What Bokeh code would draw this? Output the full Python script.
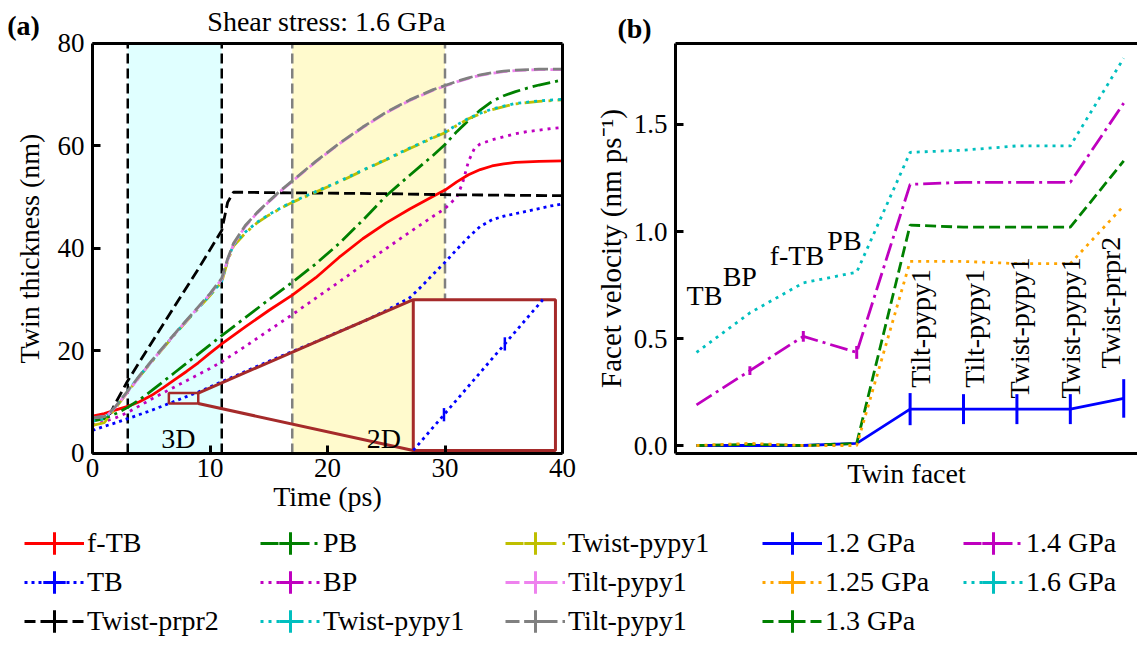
import numpy as np
from bokeh.plotting import figure
from bokeh.layouts import column, row
from bokeh.models import (Range1d, FixedTicker, BoxAnnotation, Label, Legend,
                          LegendItem, LinearAxis, PrintfTickFormatter)
from bokeh.core.properties import value
from bokeh.embed import file_html
from bokeh.resources import INLINE

FONT = "Liberation Serif"

# ---------------- panel (a) data: twin thickness (nm) vs time (ps) ----------------
t_ftb = [0, 1, 2, 3, 4, 5, 6, 7, 8, 9, 10, 11, 13, 15, 17, 19, 21, 23, 25, 27, 29, 30, 31, 32, 33, 34, 35, 36, 38, 40]
ftb = [7.3, 7.8, 8.5, 9.2, 10.1, 11.3, 12.8, 14.4, 16.0, 17.7, 19.6, 21.4, 24.7, 27.9, 30.9, 34.3, 38.3, 41.9,
       45.0, 47.7, 50.2, 51.4, 53.0, 54.4, 55.4, 56.1, 56.5, 56.8, 57.0, 57.1]

t_tb = [0, 1, 2, 3, 4, 5, 6, 7, 8, 9, 10, 11, 13, 15, 17, 19, 21, 23, 25, 27, 28, 29, 30, 31, 32, 33, 34, 35, 36,
        37, 38, 39, 40]
tb = [4.5, 5.3, 6.0, 6.8, 7.6, 8.4, 9.3, 10.2, 11.1, 12.0, 13.0, 14.0, 16.0, 18.0, 19.9, 21.8, 23.8, 25.7, 27.9,
      30.4, 32.6, 35.0, 37.3, 39.8, 42.2, 44.3, 45.6, 46.3, 46.8, 47.3, 47.8, 48.3, 48.7]
tb_err_t = [7.04, 8.11]
tb_err = [0.09, 0.09]

t_prpr2 = [0, 1, 1.5, 2, 3, 5, 7, 9, 11, 11.5, 12, 15, 20, 25, 30, 35, 40]
prpr2 = [7.0, 7.2, 7.8, 10.0, 14.2, 21.5, 28.8, 36.0, 43.5, 49.0, 51.0, 50.9, 50.8, 50.7, 50.5, 50.4, 50.3]

t_pb = [0, 1, 2, 3, 4, 5, 6, 7, 8, 9, 10, 11, 13, 15, 17, 19, 21, 23, 25, 27, 29, 30, 31, 32, 33, 34, 35, 36, 37,
        38, 39, 40]
pb = [6.3, 6.8, 7.8, 9.0, 10.5, 12.2, 14.0, 15.8, 17.6, 19.4, 21.2, 23.0, 26.5, 30.0, 33.4, 37.0, 41.0, 45.5,
      50.3, 54.3, 58.2, 60.3, 62.8, 65.0, 67.0, 68.7, 69.8, 70.6, 71.3, 71.9, 72.4, 72.9]

t_bp = [0, 1, 2, 3, 4, 5, 6, 7, 8, 9, 10, 11, 13, 15, 17, 19, 21, 23, 25, 27, 29, 30, 31, 31.5, 32, 32.5, 33, 34,
        35, 36, 37, 38, 39, 40]
bp = [5.5, 6.2, 7.0, 8.0, 9.3, 10.6, 11.8, 13.0, 14.2, 15.4, 16.6, 17.9, 20.9, 24.0, 27.1, 30.3, 33.5, 36.8,
      40.0, 43.2, 46.3, 47.8, 50.0, 52.8, 57.0, 59.5, 60.4, 61.2, 61.8, 62.4, 62.8, 63.1, 63.4, 63.6]

t_twist = [0, 1, 2, 3, 4, 5, 6, 7, 8, 9, 10, 11, 11.5, 12, 13, 14, 15, 16, 17, 19, 21, 23, 25, 27, 29, 30, 31,
           32, 33, 34, 35, 36, 38, 40]
twist_olive = [5.5, 6.0, 9.0, 12.0, 15.0, 17.8, 20.5, 23.2, 25.8, 28.3, 30.8, 33.5, 37.5, 40.5, 43.0, 45.0,
               46.5, 47.8, 49.0, 51.0, 53.0, 55.2, 57.3, 59.5, 61.6, 62.6, 64.0, 65.3, 66.3, 67.1, 67.7, 68.2,
               68.7, 69.0]
twist_cyan = [6.3, 6.8, 9.2, 12.2, 15.1, 17.9, 20.6, 23.3, 25.9, 28.4, 30.9, 33.6, 37.8, 40.7, 43.2, 45.1, 46.6,
              47.9, 49.1, 51.1, 53.1, 55.3, 57.4, 59.6, 61.7, 62.7, 64.1, 65.4, 66.4, 67.2, 67.8, 68.3, 68.8, 69.1]

t_tilt = [0, 1, 1.3, 2, 3, 4, 5, 6, 7, 8, 9, 10, 11, 11.5, 12, 13, 14, 15, 16, 17, 19, 21, 23, 25, 27, 29, 30,
          31, 32, 33, 34, 35, 36, 38, 40]
tilt_grey = [7.0, 7.2, 7.5, 9.3, 12.2, 15.2, 18.0, 20.7, 23.4, 26.0, 28.6, 31.2, 34.2, 38.0, 41.0, 44.5, 47.0,
             49.2, 51.3, 53.2, 57.0, 60.5, 63.7, 66.6, 69.0, 71.0, 71.8, 72.6, 73.3, 73.9, 74.3, 74.6, 74.8,
             75.0, 75.0]
tilt_violet = [7.0, 7.2, 7.5, 9.2, 12.0, 15.0, 17.9, 20.6, 23.3, 25.9, 28.5, 31.1, 34.0, 37.8, 40.8, 44.3, 46.9,
               49.1, 51.2, 53.1, 56.9, 60.4, 63.6, 66.5, 68.9, 70.9, 71.7, 72.5, 73.2, 73.8, 74.2, 74.5, 74.7,
               74.9, 74.9]

x_lim_a = [0, 40]
y_lim_a = [0, 80]
shade_start = [3, 17]
shade_end = [11, 30]
shade_labels = ["3D", "2D"]

# ---------------- panel (b) data: facet velocity ----------------
facets = ["TB", "BP", "f-TB", "PB", "Tilt-pypy1", "Tilt-pypy1", "Twist-pypy1", "Twist-pypy1", "Twist-prpr2"]
v_12 = [0.0, 0.0, 0.0, 0.01, 0.17, 0.17, 0.17, 0.17, 0.22]
e_12 = [0, 0, 0, 0, 0.075, 0.07, 0.07, 0.07, 0.09]
v_125 = [0.0, 0.01, 0.0, 0.0, 0.86, 0.86, 0.85, 0.85, 1.12]
v_13 = [0.0, 0.005, 0.0, 0.01, 1.03, 1.02, 1.02, 1.02, 1.33]
v_14 = [0.19, 0.35, 0.51, 0.435, 1.22, 1.23, 1.23, 1.23, 1.60]
e_14 = [0, 0.02, 0.025, 0.03, 0, 0, 0, 0, 0]
v_16 = [0.435, 0.62, 0.76, 0.81, 1.37, 1.38, 1.40, 1.40, 1.81]
x_lim_b = [-0.393, 8.258]
y_lim_b = [-0.0374, 1.8785]

# ---------------- layout constants ----------------
zoom_x = [6.5, 9.0]
zoom_y = [9.75, 11.8]
inset_x = [27.3, 39.4]
inset_y = [0.6, 30.0]
BROWN = "#A52A2A"
LW = 2.8
MAIN_H = 515
LEG_H = 130
WA, WB = 590, 547


def style_axis(ax):
    ax.major_label_text_font = FONT
    ax.major_label_text_font_size = "27px"
    ax.major_label_text_color = "black"
    ax.axis_label_text_font = FONT
    ax.axis_label_text_font_size = "28px"
    ax.axis_label_text_font_style = "normal"
    ax.axis_label_text_color = "black"
    ax.major_tick_in = 8
    ax.major_tick_out = 0
    ax.major_tick_line_width = 3
    ax.major_tick_line_color = "black"
    ax.minor_tick_line_color = None
    ax.axis_line_width = 3
    ax.axis_line_color = "black"


def spine(loc, bounds):
    return LinearAxis(fixed_location=loc, bounds=tuple(bounds), ticker=FixedTicker(ticks=[]),
                      major_label_text_font_size="0px", major_tick_in=0, major_tick_out=0,
                      minor_tick_in=0, minor_tick_out=0, axis_line_width=3, axis_line_color="black")


# ================= panel (a) =================
# frame covers the whole canvas; the plot box is drawn by axes fixed at the data limits
pa = figure(width=WA, height=MAIN_H, x_range=Range1d(-7.830, 42.383), y_range=Range1d(-12.098, 88.390),
            output_backend="svg", toolbar_location=None, min_border=0)
pa.grid.visible = False
pa.outline_line_color = None
pa.xaxis.ticker = FixedTicker(ticks=[0, 10, 20, 30, 40])
pa.yaxis.ticker = FixedTicker(ticks=[0, 20, 40, 60, 80])
pa.xaxis.axis_label = "Time (ps)"
pa.yaxis.axis_label = "Twin thickness (nm)"
for ax in pa.axis:
    style_axis(ax)
pa.xaxis.fixed_location = y_lim_a[0]
pa.xaxis.bounds = tuple(x_lim_a)
pa.yaxis.fixed_location = x_lim_a[0]
pa.yaxis.bounds = tuple(y_lim_a)
pa.xaxis.major_label_standoff = 6
pa.xaxis.axis_label_standoff = 0
pa.yaxis.major_label_standoff = 8
pa.yaxis.axis_label_standoff = 10
pa.add_layout(spine(y_lim_a[1], x_lim_a), "above")
pa.add_layout(spine(x_lim_a[1], y_lim_a), "right")

for s, e, c in zip(shade_start, shade_end, ["#E0FFFF", "#FFFACD"]):
    pa.add_layout(BoxAnnotation(left=s, right=e, bottom=y_lim_a[0], top=y_lim_a[1], fill_color=c,
                                fill_alpha=1, line_color=None, level="underlay"))
for s, e, c in zip(shade_start, shade_end, ["black", "#808080"]):
    pa.segment(x0=[s, e], x1=[s, e], y0=[y_lim_a[0]] * 2, y1=[y_lim_a[1]] * 2,
               line_color=c, line_width=2.5, line_dash="10 5")

pa.line(t_tb, tb, line_color="#0000FF", line_width=LW, line_dash="3 4")
pa.line(t_bp, bp, line_color="#BF00BF", line_width=LW, line_dash="3 5")
pa.line(t_ftb, ftb, line_color="#FF0000", line_width=LW)
pa.line(t_pb, pb, line_color="#008000", line_width=LW, line_dash="18 5 3 5")
pa.line(t_prpr2, prpr2, line_color="black", line_width=LW, line_dash="11 5")
pa.line(t_twist, twist_olive, line_color="#BFBF00", line_width=LW, line_dash="18 6 3 6")
pa.line(t_twist, twist_cyan, line_color="#00BFBF", line_width=LW, line_dash="3 5")
pa.line(t_tilt, tilt_violet, line_color="#EE82EE", line_width=LW, line_dash="14 5", line_dash_offset=3)
pa.line(t_tilt, tilt_grey, line_color="#808080", line_width=LW, line_dash="14 5")

# zoom box, connectors and inset (magnified TB curve)
pa.quad(left=[zoom_x[0]], right=[zoom_x[1]], bottom=[zoom_y[0]], top=[zoom_y[1]],
        fill_color=None, line_color=BROWN, line_width=2.5)
pa.segment(x0=[zoom_x[1], zoom_x[1]], y0=[zoom_y[1], zoom_y[0]],
           x1=[inset_x[0], inset_x[0]], y1=[inset_y[1], inset_y[0]], line_color=BROWN, line_width=3)
pa.quad(left=[inset_x[0]], right=[inset_x[1]], bottom=[inset_y[0]], top=[inset_y[1]],
        fill_color="white", line_color=BROWN, line_width=3)

sx = (inset_x[1] - inset_x[0]) / (zoom_x[1] - zoom_x[0])
sy = (inset_y[1] - inset_y[0]) / (zoom_y[1] - zoom_y[0])
t0 = max(zoom_x[0], float(np.interp(zoom_y[0], tb, t_tb)))
t1 = min(zoom_x[1], float(np.interp(zoom_y[1], tb, t_tb)))
ts = [t0] + [t for t in t_tb if t0 < t < t1] + [t1]
vs = list(np.interp(ts, t_tb, tb))
pa.line([inset_x[0] + (t - zoom_x[0]) * sx for t in ts], [inset_y[0] + (v - zoom_y[0]) * sy for v in vs],
        line_color="#0000FF", line_width=LW, line_dash="3 4")
ev = np.interp(tb_err_t, t_tb, tb)
ex = [inset_x[0] + (t - zoom_x[0]) * sx for t in tb_err_t]
pa.segment(x0=ex, x1=ex,
           y0=[inset_y[0] + (v - e - zoom_y[0]) * sy for v, e in zip(ev, tb_err)],
           y1=[inset_y[0] + (v + e - zoom_y[0]) * sy for v, e in zip(ev, tb_err)],
           line_color="#0000FF", line_width=2.5)

for txt, xx in zip(shade_labels, [7.3, 24.8]):
    pa.add_layout(Label(x=xx, y=2.9, text=txt, text_align="center", text_baseline="middle",
                        text_font=FONT, text_font_size="28px", text_color="black"))
pa.add_layout(Label(x=-5.87, y=83.5, text="(a)", text_align="center", text_baseline="middle",
                    text_font=FONT, text_font_size="28px", text_font_style="bold", text_color="black"))
pa.add_layout(Label(x=19.9, y=84.3, text="Shear stress: 1.6 GPa", text_align="center", text_baseline="middle",
                    text_font=FONT, text_font_size="28px", text_color="black"))

# ================= panel (b) =================
pbf = figure(width=WB, height=MAIN_H, x_range=Range1d(-1.985, 8.258), y_range=Range1d(-0.327, 2.0794),
             output_backend="svg", toolbar_location=None, min_border=0)
pbf.grid.visible = False
pbf.outline_line_color = None
pbf.xaxis.ticker = FixedTicker(ticks=[])
pbf.yaxis.ticker = FixedTicker(ticks=[0, 0.5, 1.0, 1.5])
pbf.yaxis.formatter = PrintfTickFormatter(format="%.1f")
pbf.xaxis.axis_label = "Twin facet"
pbf.yaxis.axis_label = "Facet velocity (nm ps\u207b\u00b9)"
for ax in pbf.axis:
    style_axis(ax)
pbf.xaxis.major_label_text_font_size = "0px"
pbf.xaxis.fixed_location = y_lim_b[0]
pbf.xaxis.bounds = tuple(x_lim_b)
pbf.yaxis.fixed_location = x_lim_b[0]
pbf.yaxis.bounds = tuple(y_lim_b)
pbf.xaxis.axis_label_standoff = 4
pbf.yaxis.major_label_standoff = 8
pbf.yaxis.axis_label_standoff = 4
pbf.yaxis.axis_label_text_font_size = "29px"
pbf.add_layout(spine(y_lim_b[1], x_lim_b), "above")

xi = list(range(len(facets)))
pbf.line(xi, v_16, line_color="#00BFBF", line_width=LW, line_dash="3 5")
pbf.line(xi, v_14, line_color="#BF00BF", line_width=LW, line_dash="18 5 3 5")
pbf.line(xi, v_12, line_color="#0000FF", line_width=LW)
pbf.line(xi, v_13, line_color="#008000", line_width=LW, line_dash="11 5")
pbf.line(xi, v_125, line_color="#FFA500", line_width=LW, line_dash="3 5")

for vals, errs, col in ((v_12, e_12, "#0000FF"), (v_14, e_14, "#BF00BF")):
    xs = [x for x, e in zip(xi, errs) if e > 0]
    lo = [v - e for v, e in zip(vals, errs) if e > 0]
    hi = [v + e for v, e in zip(vals, errs) if e > 0]
    pbf.segment(x0=xs, x1=xs, y0=lo, y1=hi, line_color=col, line_width=3)

# facet names
pbf.text(x=[0.15, 0.81, 1.88, 2.77], y=[0.70, 0.79, 0.89, 0.96], text=facets[:4],
         text_align="center", text_baseline="middle", text_font=value(FONT), text_font_size="28px",
         text_color="black")
pbf.text(x=[4.2, 5.2, 6.05, 7.0, 7.75], y=[0.27, 0.27, 0.22, 0.22, 0.36], text=facets[4:],
         angle=np.pi / 2, text_align="left", text_baseline="middle", text_font=value(FONT),
         text_font_size="28px", text_color="black")
pbf.add_layout(Label(x=-1.161, y=1.949, text="(b)", text_align="center", text_baseline="middle",
                     text_font=FONT, text_font_size="28px", text_font_style="bold", text_color="black"))

# ================= legend strip =================
pl = figure(width=1137, height=LEG_H, x_range=Range1d(0, 1), y_range=Range1d(0, 1),
            output_backend="svg", toolbar_location=None, min_border=0,
            x_axis_location=None, y_axis_location=None)
pl.grid.visible = False
pl.outline_line_color = None


def proxy(color, dash):
    ln = pl.line(x=[np.nan], y=[np.nan], line_color=color, line_width=LW, line_dash=dash)
    tk = pl.scatter(x=[np.nan], y=[np.nan], marker="cross", size=30, line_color=color, line_width=3)
    return [ln, tk]


legend_cols = [
    [("f-TB", "#FF0000", "solid"), ("TB", "#0000FF", "3 4"), ("Twist-prpr2", "black", "11 5")],
    [("PB", "#008000", "18 5 3 5"), ("BP", "#BF00BF", "3 5"), ("Twist-pypy1", "#00BFBF", "3 5")],
    [("Twist-pypy1", "#BFBF00", "18 6 3 6"), ("Tilt-pypy1", "#EE82EE", "14 5"), ("Tilt-pypy1", "#808080", "14 5")],
    [("1.2 GPa", "#0000FF", "solid"), ("1.25 GPa", "#FFA500", "3 5"), ("1.3 GPa", "#008000", "11 5")],
    [("1.4 GPa", "#BF00BF", "18 5 3 5"), ("1.6 GPa", "#00BFBF", "3 5")],
]
col_x = [24, 260, 505, 762, 963]
row_c = [28, 67, 106]
GW, GH = 60, 56
for cx, entries in zip(col_x, legend_cols):
    for ri, (lab, c, d) in enumerate(entries):
        vy = LEG_H - (row_c[ri] + GH / 2)
        leg = Legend(items=[LegendItem(label=lab, renderers=proxy(c, d))], location=(cx, vy),
                     orientation="vertical", glyph_width=GW, glyph_height=GH, spacing=0, label_standoff=3,
                     padding=0, margin=0, border_line_color=None, background_fill_alpha=0,
                     label_text_font=FONT, label_text_font_size="28px", label_text_color="black")
        pl.add_layout(leg)

layout = column(row(pa, pbf), pl)
with open("out.html", "w") as f:
    f.write(file_html(layout, INLINE))
